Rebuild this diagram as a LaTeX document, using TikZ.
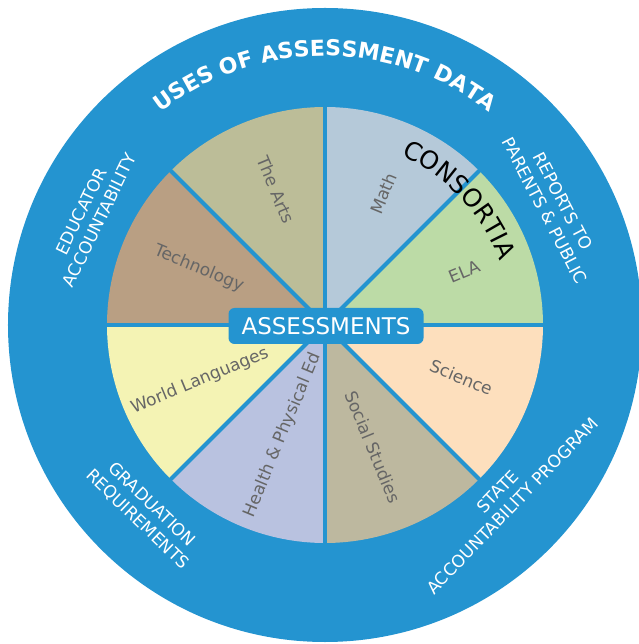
\documentclass[tikz,border=0pt]{standalone}
\usepackage{fontspec}
\setmainfont{DejaVu Sans}
\usepackage{tikz}
\usetikzlibrary{decorations.text}
\definecolor{ringblue}{RGB}{36,148,208}
\definecolor{labelgray}{RGB}{102,102,102}
\definecolor{mathfill}{RGB}{181,201,217}
\definecolor{elafill}{RGB}{188,219,166}
\definecolor{sciencefill}{RGB}{253,223,189}
\definecolor{socialfill}{RGB}{189,184,159}
\definecolor{healthfill}{RGB}{185,194,224}
\definecolor{worldfill}{RGB}{244,243,180}
\definecolor{techfill}{RGB}{185,159,131}
\definecolor{artsfill}{RGB}{188,189,152}
\newcommand{\usestitlefont}{\color{white}\bfseries\fontsize{22}{26}\selectfont}
\newcommand{\consortiafont}{\color{black}\fontsize{25}{30}\selectfont}

\begin{document}
\begin{tikzpicture}[x = 1pt, y = 1pt,
                    %scale = 0.5,
                    wedgelabel/.style={text = labelgray, font = \fontsize{17}{20}\selectfont},
                    ringlabel/.style={text = white, align = center, font = \fontsize{17}{20.5}\selectfont},
                    sepline/.style={draw = ringblue, line width = 4},
                    centerbox/.style={rectangle, rounded corners = 6, fill = ringblue, text = white,
                    minimum width = 195, minimum height = 36, inner sep = 0,
                    font = \fontsize{23}{27}\selectfont}]

                    \useasboundingbox (-325,-319) rectangle (313,325);
                    \fill[ringblue] (0,0) circle[radius = 317];

                    \fill[elafill] (0,0) -- (0:218) arc[start angle = 0, end angle = 45, radius = 218] -- cycle;
                    \fill[mathfill] (0,0) -- (45:218) arc[start angle = 45, end angle = 90, radius = 218] -- cycle;
                    \fill[artsfill] (0,0) -- (90:218) arc[start angle = 90, end angle = 135, radius = 218] -- cycle;
                    \fill[techfill] (0,0) -- (135:218) arc[start angle = 135, end angle = 180, radius = 218] -- cycle;
                    \fill[worldfill] (0,0) -- (180:218) arc[start angle = 180, end angle = 225, radius = 218] -- cycle;
                    \fill[healthfill] (0,0) -- (225:218) arc[start angle = 225, end angle = 270, radius = 218] -- cycle;
                    \fill[socialfill] (0,0) -- (270:218) arc[start angle = 270, end angle = 315, radius = 218] -- cycle;
                    \fill[sciencefill] (0,0) -- (315:218) arc[start angle = 315, end angle = 360, radius = 218] -- cycle;

                    \draw[sepline] (0:222) -- (180:222);
                    \draw[sepline] (90:222) -- (270:222);
                    \draw[sepline] (45:222) -- (225:222);
                    \draw[sepline] (135:222) -- (315:222);

                    \node[wedgelabel, rotate = 67.5] (math) at (66:144) {Math};
                    \node[wedgelabel, rotate = -67.5] (arts) at (110:144) {The Arts};
                    \node[wedgelabel, rotate = -22.5] (tech) at (156:138) {Technology};
                    \node[wedgelabel, rotate = 22.5] (world) at (204:137) {World Languages};
                    \node[wedgelabel, rotate = 67.5] (health) at (249:118) {Health \& Physical Ed};
                    \node[wedgelabel, rotate = -67.5] (social) at (291.5:131) {Social Studies};
                    \node[wedgelabel, rotate = -22.5] (science) at (339:146) {Science};
                    \node[wedgelabel, rotate = 22.5] (ela) at (21:149) {ELA};

                    \node[centerbox] (assess) at (1,-1) {ASSESSMENTS};

                    \path[decorate, decoration = {text along path, text align = center,
                          text = {|\usestitlefont|USES OF ASSESSMENT DATA}}]
                          (150:269) arc[start angle = 150, end angle = 30, radius = 269];
                    \path[decorate, decoration = {text along path, text align = center,
                          text = {|\consortiafont|CONSORTIA}}]
                          (88:186) arc[start angle = 88, end angle = -2, radius = 186];

                    \node[ringlabel, rotate = 64] (educator) at (155:259) {EDUCATOR\\ACCOUNTABILITY};
                    \node[ringlabel, rotate = -62.5] (reports) at (27.5:258) {REPORTS TO\\PARENTS \& PUBLIC};
                    \node[ringlabel, rotate = -44] (graduation) at (226:260) {GRADUATION\\REQUIREMENTS};
                    \node[ringlabel, rotate = 46] (state) at (-44:250) {STATE\\ACCOUNTABILITY PROGRAM};
                    \end{tikzpicture}
\end{document}
